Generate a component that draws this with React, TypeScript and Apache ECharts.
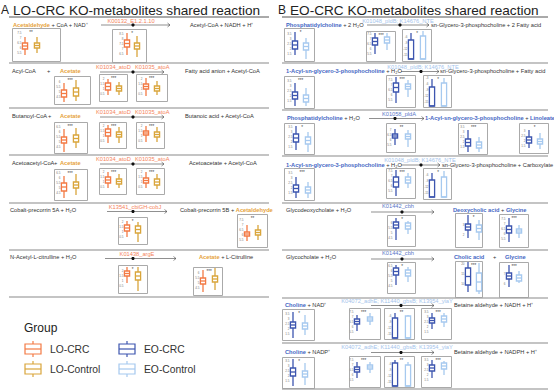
import React, { useEffect, useRef } from 'react';
import * as echarts from 'echarts';

// ---------- categories ----------
const groupsLO = ['LO-CRC', 'LO-Control'];
const groupsEO = ['EO-CRC', 'EO-Control'];

// ---------- box statistics [min, Q1, median, Q3, max] (CRC first, Control second) ----------
// Panel A (LO)
const aAcetaldehyde1 = [[5.3, 5.9, 6.2, 6.5, 7.1], [5.5, 6.0, 6.25, 6.5, 7.1]];
const aK00132 = [[6.4, 7.2, 7.55, 7.9, 8.6], [6.2, 7.0, 7.3, 7.6, 8.3]];
const aAcetate1 = [[4.0, 4.5, 4.85, 5.2, 5.9], [4.1, 4.6, 5.0, 5.4, 6.2]];
const aAtoD1 = [[0.4, 0.9, 1.25, 1.6, 2.0], [0.4, 0.8, 1.05, 1.3, 1.7]];
const aAtoA1 = [[0.3, 1.0, 1.25, 1.5, 2.1], [0.4, 0.8, 1.05, 1.3, 1.8]];
const aAcetate2 = [[4.0, 4.9, 5.2, 5.5, 6.3], [4.4, 5.0, 5.35, 5.7, 6.4]];
const aAtoD2 = [[0.3, 1.0, 1.35, 1.7, 2.1], [0.3, 0.9, 1.15, 1.4, 1.9]];
const aAtoA2 = [[0.4, 1.1, 1.3, 1.5, 2.0], [0.4, 0.9, 1.15, 1.4, 1.9]];
const aAcetate3 = [[4.0, 4.7, 5.1, 5.5, 6.2], [4.3, 5.0, 5.3, 5.6, 6.4]];
const aAtoD3 = [[0.4, 0.9, 1.2, 1.5, 2.0], [0.4, 0.8, 1.05, 1.3, 1.8]];
const aAtoA3 = [[0.4, 0.9, 1.15, 1.4, 2.0], [0.3, 0.7, 1.0, 1.3, 1.8]];
const aK13541 = [[0.5, 1.1, 1.4, 1.7, 2.1], [0.0, 0.9, 1.25, 1.6, 2.0]];
const aAcetaldehyde2 = [[5.4, 5.9, 6.1, 6.3, 7.0], [5.5, 6.0, 6.25, 6.5, 7.0]];
const aK01438 = [[0.8, 1.5, 1.75, 2.0, 2.4], [0.0, 1.1, 1.5, 1.9, 2.4]];
const aAcetate4 = [[4.1, 4.9, 5.2, 5.5, 6.3], [4.3, 5.1, 5.4, 5.7, 6.5]];
// Panel B (EO)
const bPC1 = [[1.4, 2.0, 2.4, 2.8, 3.7], [1.0, 1.9, 2.25, 2.6, 3.1]];
const bPldB1 = [[5.5, 6.4, 6.75, 7.1, 7.6], [5.9, 6.6, 6.9, 7.2, 7.6]];
const bNTE1 = [[-17, -17, -17, -7.5, -4], [-17, -17, -17, -5.5, -3]];
const bLPC1 = [[1.0, 1.7, 2.05, 2.4, 3.3], [1.0, 1.4, 1.75, 2.1, 2.8]];
const bPldB2 = [[5.2, 6.3, 6.75, 7.2, 7.8], [5.8, 6.6, 6.85, 7.1, 7.5]];
const bNTE2 = [[-17, -17, -17, -7.5, -3.5], [-17, -17, -17, -5.5, -3]];
const bPC2 = [[1.2, 2.0, 2.4, 2.8, 3.6], [1.0, 1.8, 2.15, 2.5, 3.0]];
const bPldA = [[5.5, 6.2, 6.4, 6.6, 7.1], [5.3, 6.1, 6.35, 6.6, 7.0]];
const bLPC2 = [[1.0, 1.6, 1.95, 2.3, 3.2], [1.0, 1.4, 1.7, 2.0, 2.5]];
const bLinoleate = [[1.3, 1.8, 2.1, 2.4, 3.1], [1.2, 1.7, 1.95, 2.2, 2.8]];
const bLPC3 = [[1.0, 1.6, 1.95, 2.3, 3.1], [1.0, 1.5, 1.8, 2.1, 2.6]];
const bPldB3 = [[5.0, 5.9, 6.4, 6.9, 7.6], [5.8, 6.3, 6.6, 6.9, 7.3]];
const bNTE3 = [[-17, -17, -17, -8.5, -5], [-17, -17, -17, -7, -4]];
const bCbh1 = [[4.3, 5.5, 5.8, 6.1, 6.5], [4.9, 5.4, 5.7, 6.0, 6.2]];
const bDeoxycholic = [[1.7, 2.5, 2.8, 3.1, 4.0], [1.5, 2.3, 2.65, 3.0, 3.5]];
const bGlycine1 = [[5.2, 6.1, 6.45, 6.8, 7.6], [5.6, 6.1, 6.3, 6.5, 6.9]];
const bCbh2 = [[4.6, 5.6, 5.95, 6.3, 6.6], [4.9, 5.5, 5.8, 6.1, 6.4]];
const bCholic = [[6, 9.5, 13.75, 18, 21], [5, 6.5, 11, 15.5, 20.5]];
const bGlycine2 = [[5.7, 6.5, 6.8, 7.1, 7.9], [6.1, 6.3, 6.6, 6.9, 7.3]];
const bCholine1 = [[1.1, 2.1, 2.4, 2.7, 3.7], [1.4, 2.0, 2.3, 2.6, 3.4]];
const bAdhE1 = [[5.6, 6.3, 6.55, 6.8, 7.2], [6.2, 6.6, 6.8, 7.0, 7.4]];
const bGbsB1 = [[-17, -17, -17, -7, -4.5], [-17, -17, -17, -6, -5.5]];
const bYiaY1 = [[1.8, 2.4, 2.65, 2.9, 3.4], [2.0, 2.5, 2.8, 3.1, 3.4]];
const bCholine2 = [[1.0, 2.0, 2.4, 2.8, 3.7], [1.1, 1.9, 2.2, 2.5, 3.3]];
const bAdhE2 = [[5.7, 6.3, 6.55, 6.8, 7.3], [6.2, 6.6, 6.8, 7.0, 7.3]];
const bGbsB2 = [[-17, -17, -17, -5.5, -4], [-17, -17, -17, -6.5, -5]];
const bYiaY2 = [[1.7, 2.4, 2.7, 3.0, 3.5], [2.0, 2.6, 2.9, 3.2, 3.4]];

// ---------- colours ----------
const C_LO_CRC = '#F37A44';
const C_LO_CTL = '#D9A53B';
const C_EO_CRC = '#3D55AF';
const C_EO_CTL = '#A6C9EF';
const GOLD_TXT = '#E6A23A';
const ORANGE_TXT = '#F5845C';
const BLUE_TXT = '#4466C4';
const LBLUE_TXT = '#A4C4EC';
const MBLUE_TXT = '#5A78C8';
const FONT = '"Liberation Sans", Arial, Helvetica, sans-serif';
const FS = 5.7;

type Plot = {
  d: number[][]; p: 'A' | 'B'; f: number[]; c: number[]; g: number[]; r: number[]; s: string;
};

// layout: frame [x0,y0,x1,y1], box centres, plotting band [top,bottom], y range, significance
const plots: Plot[] = [
  { d: aAcetaldehyde1, p: 'A', f: [12, 28, 60, 61], c: [25, 37], g: [31, 58], r: [5, 7.7], s: '**' },
  { d: aK00132, p: 'A', f: [112, 29, 146, 62], c: [127, 137], g: [32, 59], r: [6, 8.7], s: '*' },
  { d: aAcetate1, p: 'A', f: [54, 76, 90, 104], c: [64, 76], g: [79, 102], r: [4, 6.3], s: '***' },
  { d: aAtoD1, p: 'A', f: [99, 74, 127, 101], c: [108, 119], g: [77, 99], r: [0, 2.2], s: '***' },
  { d: aAtoA1, p: 'A', f: [136, 74, 167, 101], c: [146, 157], g: [77, 99], r: [0, 2.2], s: '***' },
  { d: aAcetate2, p: 'A', f: [54, 122, 87, 153], c: [64, 76], g: [125, 152], r: [4, 6.7], s: '***' },
  { d: aAtoD2, p: 'A', f: [99, 122, 126, 148], c: [108, 119], g: [124, 146], r: [0, 2.2], s: '***' },
  { d: aAtoA2, p: 'A', f: [136, 122, 164, 148], c: [146, 157], g: [124, 146], r: [0, 2.2], s: '***' },
  { d: aAcetate3, p: 'A', f: [54, 169, 87, 200], c: [64, 76], g: [172, 198], r: [4, 6.6], s: '***' },
  { d: aAtoD3, p: 'A', f: [99, 168, 126, 194], c: [108, 119], g: [171, 192], r: [0, 2.1], s: '***' },
  { d: aAtoA3, p: 'A', f: [136, 168, 164, 194], c: [146, 157], g: [171, 192], r: [0, 2.1], s: '***' },
  { d: aK13541, p: 'A', f: [118, 217, 147, 244], c: [127, 138], g: [219, 242], r: [0, 2.3], s: '*' },
  { d: aAcetaldehyde2, p: 'A', f: [237, 214, 267, 247], c: [247, 258], g: [217, 245], r: [5, 7.8], s: '**' },
  { d: aK01438, p: 'A', f: [118, 265, 147, 293], c: [127, 138], g: [266, 291], r: [0, 2.5], s: '*' },
  { d: aAcetate4, p: 'A', f: [193, 267, 222, 295], c: [203, 215], g: [268, 293], r: [4, 6.5], s: '***' },

  { d: bPC1, p: 'B', f: [284, 28, 314, 61], c: [295, 306], g: [31, 59], r: [1, 3.8], s: '*' },
  { d: bPldB1, p: 'B', f: [366, 31, 395, 61], c: [375, 387], g: [32, 59], r: [5, 7.7], s: '***' },
  { d: bNTE1, p: 'B', f: [402, 29, 431, 61], c: [411, 423], g: [31, 59], r: [-17, -3], s: '*' },
  { d: bLPC1, p: 'B', f: [284, 76, 314, 108], c: [295, 306], g: [79, 106], r: [1, 3.7], s: '***' },
  { d: bPldB2, p: 'B', f: [386, 75, 415, 107], c: [396, 408], g: [77, 105], r: [5, 7.8], s: '***' },
  { d: bNTE2, p: 'B', f: [423, 75, 451, 107], c: [432, 444], g: [77, 106], r: [-17, -2.5], s: '*' },
  { d: bPC2, p: 'B', f: [284, 123, 314, 154], c: [296, 308], g: [126, 152], r: [1, 3.6], s: '*' },
  { d: bPldA, p: 'B', f: [386, 123, 415, 152], c: [395, 408], g: [126, 150], r: [5, 7.4], s: '**' },
  { d: bLPC2, p: 'B', f: [458, 123, 487, 154], c: [468, 479], g: [126, 152], r: [1, 3.6], s: '***' },
  { d: bLinoleate, p: 'B', f: [519, 123, 548, 153], c: [529, 540], g: [126, 151], r: [1, 3.5], s: '*' },
  { d: bLPC3, p: 'B', f: [284, 168, 314, 200], c: [296, 308], g: [171, 198], r: [1, 3.7], s: '***' },
  { d: bPldB3, p: 'B', f: [386, 168, 415, 198], c: [396, 408], g: [170, 196], r: [5, 7.6], s: '***' },
  { d: bNTE3, p: 'B', f: [423, 168, 451, 199], c: [432, 444], g: [170, 197], r: [-17, -3.5], s: '*' },
  { d: bCbh1, p: 'B', f: [387, 215, 415, 246], c: [396, 408], g: [218, 243], r: [4, 6.5], s: '*' },
  { d: bDeoxycholic, p: 'B', f: [455, 213, 482, 247], c: [468, 479], g: [215, 245], r: [1, 4], s: '*' },
  { d: bGlycine1, p: 'B', f: [499, 214, 528, 247], c: [509, 519], g: [217, 244], r: [5, 7.7], s: '***' },
  { d: bCbh2, p: 'B', f: [387, 262, 415, 293], c: [396, 408], g: [265, 291], r: [4, 6.6], s: '*' },
  { d: bCholic, p: 'B', f: [455, 261, 482, 297], c: [468, 479], g: [262, 294], r: [5, 21], s: '***' },
  { d: bGlycine2, p: 'B', f: [499, 262, 528, 297], c: [509, 519], g: [265, 294], r: [5, 7.9], s: '***' },
  { d: bCholine1, p: 'B', f: [282, 309, 314, 340], c: [293, 305], g: [311, 339], r: [1, 3.8], s: '*' },
  { d: bAdhE1, p: 'B', f: [349, 308, 380, 339], c: [357, 370], g: [310, 337], r: [5, 7.7], s: '***' },
  { d: bGbsB1, p: 'B', f: [384, 308, 414, 339], c: [395, 408], g: [311, 338], r: [-17, -3.5], s: '**' },
  { d: bYiaY1, p: 'B', f: [421, 308, 451, 339], c: [432, 444], g: [310, 337], r: [1, 3.7], s: '***' },
  { d: bCholine2, p: 'B', f: [282, 357, 314, 388], c: [293, 305], g: [359, 386], r: [1, 3.7], s: '*' },
  { d: bAdhE2, p: 'B', f: [349, 356, 380, 387], c: [357, 370], g: [358, 385], r: [5, 7.7], s: '***' },
  { d: bGbsB2, p: 'B', f: [384, 356, 414, 387], c: [395, 408], g: [358, 386], r: [-17, -3], s: '**' },
  { d: bYiaY2, p: 'B', f: [421, 356, 451, 387], c: [432, 444], g: [358, 385], r: [1, 3.7], s: '***' },
];

const richGold = { g: { fill: GOLD_TXT, color: GOLD_TXT, fontWeight: 'bold', fontSize: FS, fontFamily: FONT } };
const richBlue = { b: { fill: BLUE_TXT, color: BLUE_TXT, fontWeight: 'bold', fontSize: FS, fontFamily: FONT } };

function txt(x: number, y: number, text: string, o: any = {}) {
  const align = o.align || 'left';
  return {
    type: 'text', x, y, silent: true, z: 10,
    style: {
      text, fill: o.fill || '#333', fontSize: o.size || FS, fontFamily: FONT,
      fontWeight: o.weight || 'normal', align, verticalAlign: 'middle',
      textAlign: align, textVerticalAlign: 'middle', rich: o.rich,
    },
  };
}

function hline(x1: number, x2: number, y: number, color = '#8a8a8a', w = 1.1) {
  return { type: 'line', silent: true, shape: { x1, y1: y, x2, y2: y }, style: { stroke: color, lineWidth: w } };
}

function arrow(x1: number, x2: number, y: number, dot: number) {
  return [
    { type: 'line', silent: true, shape: { x1, y1: y, x2, y2: y }, style: { stroke: '#444', lineWidth: 0.6 } },
    { type: 'polyline', silent: true, shape: { points: [[x2 - 2.5, y - 2], [x2, y], [x2 - 2.5, y + 2]] }, style: { stroke: '#444', lineWidth: 0.6, fill: 'none' } },
    { type: 'circle', silent: true, shape: { cx: dot, cy: y, r: 1.6 }, style: { fill: '#111' } },
  ];
}

function legendKey(x: number, y: number, color: string, label: string) {
  return [
    { type: 'line', silent: true, shape: { x1: x + 8, y1: y - 8, x2: x + 8, y2: y + 8 }, style: { stroke: color, lineWidth: 1.2 } },
    { type: 'rect', silent: true, shape: { x, y: y - 5, width: 16, height: 10 }, style: { fill: '#fff', stroke: color, lineWidth: 1.2 } },
    { type: 'line', silent: true, shape: { x1: x, y1: y, x2: x + 16, y2: y }, style: { stroke: color, lineWidth: 1.2 } },
    txt(x + 25, y, label, { size: 10.3, fill: '#333' }),
  ];
}

function makeRender(colors: string[]) {
  return (params: any, api: any) => {
    const xi = api.value(0);
    const pMin = api.coord([xi, api.value(1)]);
    const pQ1 = api.coord([xi, api.value(2)]);
    const pMed = api.coord([xi, api.value(3)]);
    const pQ3 = api.coord([xi, api.value(4)]);
    const pMax = api.coord([xi, api.value(5)]);
    const color = colors[params.dataIndex];
    const hw = 2.6;
    return {
      type: 'group',
      children: [
        { type: 'line', shape: { x1: pMin[0], y1: pMin[1], x2: pMax[0], y2: pMax[1] }, style: { stroke: color, lineWidth: 1.3 } },
        { type: 'rect', shape: { x: pQ1[0] - hw, y: pQ3[1], width: hw * 2, height: Math.max(pQ1[1] - pQ3[1], 0.5) }, style: { fill: '#fff', stroke: color, lineWidth: 1.3 } },
        { type: 'line', shape: { x1: pMed[0] - hw, y1: pMed[1], x2: pMed[0] + hw, y2: pMed[1] }, style: { stroke: color, lineWidth: 1.3 } },
      ],
    };
  };
}

function buildOption() {
  const grids: any[] = [];
  const xAxes: any[] = [];
  const yAxes: any[] = [];
  const series: any[] = [];
  const graphics: any[] = [];

  plots.forEach((pl, i) => {
    const cats = pl.p === 'A' ? groupsLO : groupsEO;
    const cols = pl.p === 'A' ? [C_LO_CRC, C_LO_CTL] : [C_EO_CRC, C_EO_CTL];
    grids.push({ left: pl.c[0], width: pl.c[1] - pl.c[0], top: pl.g[0], height: pl.g[1] - pl.g[0], show: false, containLabel: false });
    xAxes.push({ type: 'category', gridIndex: i, data: cats, boundaryGap: false, show: false });
    yAxes.push({
      type: 'value', gridIndex: i, min: pl.r[0], max: pl.r[1], splitNumber: 4,
      axisLine: { show: false }, axisTick: { show: false }, splitLine: { show: false },
      axisLabel: { fontSize: 3, color: '#777', margin: 3.5, showMinLabel: false, showMaxLabel: false, fontFamily: FONT },
    });
    series.push({
      type: 'custom', xAxisIndex: i, yAxisIndex: i,
      data: [[cats[0], ...pl.d[0]], [cats[1], ...pl.d[1]]],
      encode: { x: 0, y: [1, 2, 3, 4, 5] },
      renderItem: makeRender(cols),
      silent: true,
    });
    graphics.push({
      type: 'rect', silent: true, z: 1,
      shape: { x: pl.f[0] + 0.5, y: pl.f[1] + 0.5, width: pl.f[2] - pl.f[0], height: pl.f[3] - pl.f[1] },
      style: { fill: 'none', stroke: '#a0a0a0', lineWidth: 0.9 },
    });
    graphics.push(txt((pl.c[0] + pl.c[1]) / 2, pl.f[1] + 4, pl.s, { size: 4.5, align: 'center', fill: '#444' }));
  });

  // ---------- Panel A texts ----------
  graphics.push(txt(1, 10, 'A', { size: 12, fill: '#222' }));
  graphics.push(txt(13, 10, 'LO-CRC KO-metabolites shared reaction', { size: 13.6, fill: '#222' }));
  graphics.push(hline(9, 269, 17, '#555', 1));
  [63, 108, 155, 203, 250, 297].forEach((y) => graphics.push(hline(9, 269, y)));

  graphics.push(txt(13, 24.5, '{g|Acetaldehyde} + CoA + NAD⁺', { rich: richGold }));
  graphics.push(txt(131, 20.8, 'K00132_E1.2.1.10', { fill: ORANGE_TXT, align: 'center' }));
  graphics.push(...arrow(101, 170, 25, 133));
  graphics.push(txt(190, 24.5, 'Acetyl-CoA + NADH + H⁺'));

  const atoRows = [
    { y: 71, left: 'Acyl-CoA', plusX: 47, right: 'Fatty acid anion + Acetyl-CoA', rx: 185 },
    { y: 116, left: 'Butanoyl-CoA', plusX: 48, right: 'Butanoic acid + Acetyl-CoA', rx: 185 },
    { y: 163, left: 'Acetoacetyl-CoA', plusX: 54, right: 'Acetoacetate + Acetyl-CoA', rx: 189 },
  ];
  atoRows.forEach((r) => {
    graphics.push(txt(12, r.y, r.left));
    graphics.push(txt(r.plusX, r.y, '+'));
    graphics.push(txt(60, r.y, '{g|Acetate}', { rich: richGold }));
    graphics.push(txt(96, r.y - 4.5, 'K01034_atoD', { fill: ORANGE_TXT }));
    graphics.push(txt(135, r.y - 4.5, 'K01035_atoA', { fill: ORANGE_TXT }));
    graphics.push(...arrow(100, 164, r.y + 1, 133));
    graphics.push(txt(r.rx, r.y, r.right));
  });

  graphics.push(txt(10, 210, 'Cobalt-precorrin 5A + H₂O'));
  graphics.push(txt(135, 206.5, 'K13541_cbiGH-cobJ', { fill: ORANGE_TXT, align: 'center' }));
  graphics.push(...arrow(107, 167, 211.5, 133));
  graphics.push(txt(180, 210, 'Cobalt-precorrin 5B + {g|Acetaldehyde}', { rich: richGold }));

  graphics.push(txt(10, 257, 'N-Acetyl-L-citrulline + H₂O'));
  graphics.push(txt(137, 253.5, 'K01438_argE', { fill: ORANGE_TXT, align: 'center' }));
  graphics.push(...arrow(105, 176, 258.5, 133));
  graphics.push(txt(199, 257, '{g|Acetate} + L-Citrulline', { rich: richGold }));

  // legend
  graphics.push(txt(24, 328, 'Group', { size: 12, fill: '#222' }));
  graphics.push(...legendKey(25, 349, C_LO_CRC, 'LO-CRC'));
  graphics.push(...legendKey(25, 369, C_LO_CTL, 'LO-Control'));
  graphics.push(...legendKey(119, 349, C_EO_CRC, 'EO-CRC'));
  graphics.push(...legendKey(119, 369, C_EO_CTL, 'EO-Control'));

  // ---------- Panel B texts ----------
  graphics.push(txt(278, 10, 'B', { size: 12, fill: '#222' }));
  graphics.push(txt(290, 10, 'EO-CRC KO-metabolites shared reaction', { size: 13.6, fill: '#222' }));
  graphics.push(hline(282, 548, 17, '#555', 1));
  [63, 110, 156, 203, 250, 298, 343, 389].forEach((y) => graphics.push(hline(282, 548, y)));

  graphics.push(txt(286, 25, '{b|Phosphatidylcholine} + 2 H₂O', { rich: richBlue }));
  graphics.push(txt(398, 20.8, 'K01048_pldB; K14676_NTE', { fill: LBLUE_TXT, align: 'center' }));
  graphics.push(...arrow(367, 429, 25, 400));
  graphics.push(txt(431, 25, 'sn-Glycero-3-phosphocholine + 2 Fatty acid'));

  graphics.push(txt(286, 71, '{b|1-Acyl-sn-glycero-3-phosphocholine} + H₂O', { rich: richBlue }));
  graphics.push(txt(423, 66.5, 'K01048_pldB; K14676_NTE', { fill: LBLUE_TXT, align: 'center' }));
  graphics.push(...arrow(401, 439, 71.5, 421));
  graphics.push(txt(440, 71, 'sn-Glycero-3-phosphocholine + Fatty acid'));

  graphics.push(txt(287, 118, '{b|Phosphatidylcholine} + H₂O', { rich: richBlue }));
  graphics.push(txt(399, 113.5, 'K01058_pldA', { fill: MBLUE_TXT, align: 'center' }));
  graphics.push(...arrow(369, 424, 118.5, 395));
  graphics.push(txt(425, 118, '{b|1-Acyl-sn-glycero-3-phosphocholine} + {b|Linoleate}', { rich: richBlue }));

  graphics.push(txt(286, 164.5, '{b|1-Acyl-sn-glycero-3-phosphocholine} + H₂O', { rich: richBlue }));
  graphics.push(txt(420, 160, 'K01048_pldB; K14676_NTE', { fill: LBLUE_TXT, align: 'center' }));
  graphics.push(...arrow(401, 440, 165, 421));
  graphics.push(txt(442, 164.5, 'sn-Glycero-3-phosphocholine + Carboxylate'));

  graphics.push(txt(286, 209.5, 'Glycodeoxycholate + H₂O'));
  graphics.push(txt(398, 205.5, 'K01442_cbh', { fill: MBLUE_TXT, align: 'center' }));
  graphics.push(...arrow(371, 434, 212, 402));
  graphics.push(txt(453, 209.5, '{b|Deoxycholic acid} + {b|Glycine}', { rich: richBlue }));

  graphics.push(txt(286, 257, 'Glycocholate + H₂O'));
  graphics.push(txt(398, 253, 'K01442_cbh', { fill: MBLUE_TXT, align: 'center' }));
  graphics.push(...arrow(371, 434, 259, 402));
  graphics.push(txt(454, 257, '{b|Cholic acid}', { rich: richBlue }));
  graphics.push(txt(493, 257, '+'));
  graphics.push(txt(505, 257, '{b|Glycine}', { rich: richBlue }));

  graphics.push(txt(285, 304.5, '{b|Choline} + NAD⁺', { rich: richBlue }));
  graphics.push(txt(397, 300.5, 'K04072_adhE; K11440_gbsB; K13954_yiaY', { fill: LBLUE_TXT, align: 'center' }));
  graphics.push(...arrow(371, 434, 305.5, 401));
  graphics.push(txt(454, 304.5, 'Betaine aldehyde + NADH + H⁺'));

  graphics.push(txt(285, 352, '{b|Choline} + NADP⁺', { rich: richBlue }));
  graphics.push(txt(397, 347, 'K04072_adhE; K11440_gbsB; K13954_yiaY', { fill: LBLUE_TXT, align: 'center' }));
  graphics.push(...arrow(371, 434, 352.5, 401));
  graphics.push(txt(454, 352, 'Betaine aldehyde + NADPH + H⁺'));

  return {
    animation: false,
    backgroundColor: '#ffffff',
    grid: grids,
    xAxis: xAxes,
    yAxis: yAxes,
    series,
    graphic: { elements: graphics },
  };
}

export default function App() {
  const ref = useRef<HTMLDivElement>(null);
  useEffect(() => {
    if (!ref.current) return;
    const chart = echarts.init(ref.current, undefined, { renderer: 'svg', width: 554, height: 391 });
    chart.setOption(buildOption() as any);
    return () => chart.dispose();
  }, []);
  return (
    <div
      ref={ref}
      style={{ position: 'absolute', left: 0, top: 0, width: 554, height: 391, background: '#fff' }}
    />
  );
}
